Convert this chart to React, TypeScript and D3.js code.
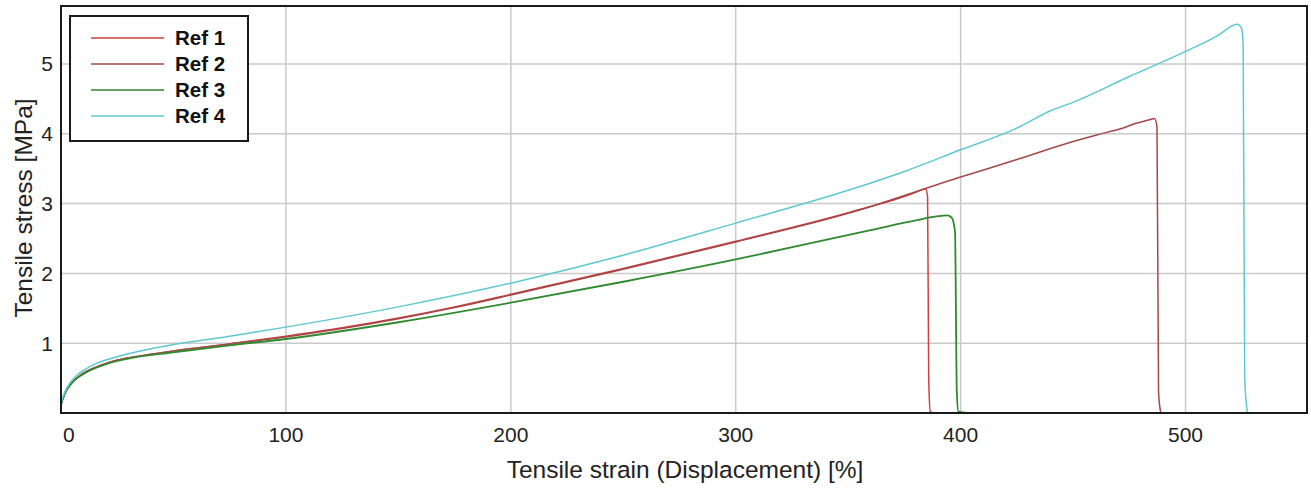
import React, { useEffect, useRef } from 'react';
import * as d3 from 'd3';

const WIDTH = 1311;
const HEIGHT = 493;

const seriesNames = ['Ref 1', 'Ref 2', 'Ref 3', 'Ref 4'];
const seriesColors = ['#d23f3f', '#a34848', '#2f8a2f', '#5ec8cf'];

const ref1Strain = [0, 1, 2, 4, 7, 10, 15, 20, 30, 40, 50, 75, 100, 125, 150, 175, 200, 250, 300, 350, 380, 383, 384.5, 385.3, 385.8, 386.5, 388];
const ref1Stress = [0.12, 0.22, 0.3, 0.4, 0.5, 0.57, 0.65, 0.71, 0.79, 0.84, 0.89, 0.99, 1.1, 1.22, 1.36, 1.52, 1.7, 2.07, 2.46, 2.87, 3.16, 3.2, 3.21, 3.1, 0.5, 0.02, 0];

const ref2Strain = [0, 1, 2, 4, 7, 10, 15, 20, 30, 40, 50, 75, 100, 125, 150, 175, 200, 250, 300, 350, 400, 425, 450, 465, 472, 478, 484, 486.2, 487.3, 488, 489];
const ref2Stress = [0.12, 0.22, 0.3, 0.4, 0.5, 0.57, 0.65, 0.71, 0.79, 0.84, 0.89, 0.99, 1.09, 1.21, 1.35, 1.51, 1.69, 2.06, 2.45, 2.86, 3.38, 3.63, 3.89, 4.02, 4.08, 4.15, 4.2, 4.22, 4.1, 0.3, 0];

const ref3Strain = [0, 1, 2, 5, 10, 20, 30, 50, 75, 100, 150, 200, 250, 300, 340, 360, 380, 390, 394, 396, 397.5, 398.3, 399, 403];
const ref3Stress = [0.12, 0.22, 0.3, 0.44, 0.56, 0.7, 0.78, 0.87, 0.97, 1.06, 1.3, 1.58, 1.88, 2.2, 2.48, 2.62, 2.76, 2.82, 2.83, 2.8, 2.6, 0.3, 0.02, 0];

const ref4Strain = [0, 1, 2, 4, 7, 10, 15, 20, 30, 40, 50, 75, 100, 150, 200, 250, 300, 350, 375, 400, 425, 440, 450, 475, 500, 515, 521, 523, 524.8, 525.6, 526.3, 527.5];
const ref4Stress = [0.13, 0.24, 0.32, 0.43, 0.54, 0.61, 0.7, 0.76, 0.85, 0.92, 0.98, 1.1, 1.23, 1.52, 1.86, 2.26, 2.72, 3.19, 3.46, 3.77, 4.08, 4.33, 4.45, 4.82, 5.18, 5.42, 5.55, 5.57, 5.52, 5.3, 0.5, 0];

const seriesStrain = [ref1Strain, ref2Strain, ref3Strain, ref4Strain];
const seriesStress = [ref1Stress, ref2Stress, ref3Stress, ref4Stress];

const xTicks = [0, 100, 200, 300, 400, 500];
const yTicks = [1, 2, 3, 4, 5];

const FONT = '"Liberation Sans", Arial, sans-serif';

export default function App() {
  const svgRef = useRef<SVGSVGElement>(null);

  useEffect(() => {
    if (!svgRef.current) return;
    const svg = d3.select(svgRef.current);
    svg.selectAll('*').remove();

    const left = 61, right = 1307, top = 6, bottom = 413;

    const x = d3.scaleLinear().domain([0, 554]).range([left, right]);
    const y = d3.scaleLinear().domain([0, 5.83]).range([bottom, top]);

    svg.append('rect')
      .attr('width', WIDTH).attr('height', HEIGHT).attr('fill', '#fff');

    // Grid
    const grid = svg.append('g').attr('stroke', '#cacaca').attr('stroke-width', 1.5);
    xTicks.forEach(t => {
      grid.append('line')
        .attr('x1', x(t)).attr('x2', x(t)).attr('y1', top).attr('y2', bottom);
    });
    yTicks.forEach(t => {
      grid.append('line')
        .attr('x1', left).attr('x2', right).attr('y1', y(t)).attr('y2', y(t));
    });

    // Curves
    const line = d3.line<[number, number]>()
      .x(d => x(d[0]))
      .y(d => y(d[1]))
      .curve(d3.curveMonotoneX);

    seriesNames.forEach((name, i) => {
      const pts: [number, number][] = seriesStrain[i].map((s, j) => [s, seriesStress[i][j]]);
      svg.append('path')
        .datum(pts)
        .attr('fill', 'none')
        .attr('stroke', seriesColors[i])
        .attr('stroke-width', i === 2 ? 1.8 : 1.5)
        .attr('stroke-linejoin', 'round')
        .attr('d', line);
    });

    // Frame
    svg.append('rect')
      .attr('x', left).attr('y', top)
      .attr('width', right - left).attr('height', bottom - top)
      .attr('fill', 'none').attr('stroke', '#1a1a1a').attr('stroke-width', 2);

    // Tick labels
    svg.append('g')
      .selectAll('text')
      .data(xTicks)
      .enter()
      .append('text')
      .attr('x', d => (d === 0 ? x(d) + 2 : x(d)))
      .attr('y', 442)
      .attr('text-anchor', d => (d === 0 ? 'start' : 'middle'))
      .attr('font-family', FONT)
      .attr('font-size', 21)
      .attr('fill', '#222')
      .text(d => d);

    svg.append('g')
      .selectAll('text')
      .data(yTicks)
      .enter()
      .append('text')
      .attr('x', 53)
      .attr('y', d => y(d))
      .attr('dy', '0.35em')
      .attr('text-anchor', 'end')
      .attr('font-family', FONT)
      .attr('font-size', 21)
      .attr('fill', '#222')
      .text(d => d);

    // Axis titles
    svg.append('text')
      .attr('x', 685)
      .attr('y', 478)
      .attr('text-anchor', 'middle')
      .attr('font-family', FONT)
      .attr('font-size', 24.5)
      .attr('fill', '#222')
      .text('Tensile strain (Displacement) [%]');

    svg.append('text')
      .attr('transform', `translate(32,${208}) rotate(-90)`)
      .attr('text-anchor', 'middle')
      .attr('font-family', FONT)
      .attr('font-size', 24.5)
      .attr('fill', '#222')
      .text('Tensile stress [MPa]');

    // Legend
    const legend = svg.append('g').attr('transform', 'translate(70,16)');
    legend.append('rect')
      .attr('width', 178).attr('height', 125)
      .attr('fill', '#fff').attr('stroke', '#1a1a1a').attr('stroke-width', 2);

    seriesNames.forEach((name, i) => {
      const row = legend.append('g').attr('transform', `translate(0,${22 + i * 26})`);
      row.append('line')
        .attr('x1', 21).attr('x2', 94)
        .attr('stroke', seriesColors[i]).attr('stroke-width', 1.5);
      row.append('text')
        .attr('x', 105)
        .attr('dy', '0.35em')
        .attr('font-family', FONT)
        .attr('font-size', 20.5)
        .attr('font-weight', 'bold')
        .attr('fill', '#111')
        .text(name);
    });
  }, []);

  return (
    <svg
      ref={svgRef}
      width={WIDTH}
      height={HEIGHT}
      style={{ position: 'absolute', left: 0, top: 0 }}
    />
  );
}
